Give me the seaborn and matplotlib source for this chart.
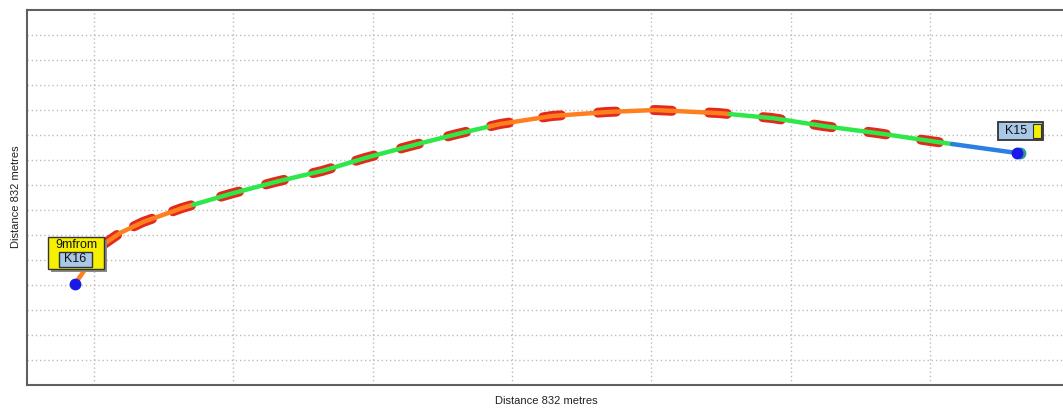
import numpy as np
import pandas as pd
import matplotlib.pyplot as plt
import matplotlib.patches as mpatches
import seaborn as sns

# route centreline, plot units (x to the right, y upwards)
route_x = [48, 63, 77, 93, 116, 155, 203, 248, 295, 338, 383, 430, 473, 525,
           580, 628, 691, 745, 796, 850, 903, 925, 990]
route_y = [101, 123, 141, 152, 163, 177, 191, 203, 214, 227, 239, 251, 261, 269,
           273, 275, 272, 267, 259, 252, 244, 241, 232]

# where the route colour changes and the colour of each stretch
break_x = [166, 463, 703, 925]
stretch_colour = ['#ff7f1f', '#2ee84a', '#ff7f1f', '#2ee84a', '#2a7fe0']

# red chainage marks along the route
mark_x = [81, 116, 155, 203, 248, 295, 338, 383, 430, 473, 525, 580, 636,
          691, 745, 796, 850, 903]

start_note = '9mfrom'
start_label = 'K16'
end_label = 'K15'
axis_title = 'Distance 832 metres'

sns.set_style('white')
plt.rcParams['font.family'] = ['Liberation Sans', 'DejaVu Sans']

fig = plt.figure(figsize=(10.63, 4.09), dpi=100)
ax = fig.add_axes([27 / 1063, 24 / 409, 1048 / 1063, 375 / 409])

# dense route, split into coloured stretches
edges = [route_x[0]] + break_x + [route_x[-1]]
rows = []
for i in range(len(edges) - 1):
    xs = np.linspace(edges[i], edges[i + 1], 200)
    ys = np.interp(xs, route_x, route_y)
    for x, y in zip(xs, ys):
        rows.append({'x': x, 'y': y, 'stretch': f's{i}'})
route = pd.DataFrame(rows)
pal = {f's{i}': c for i, c in enumerate(stretch_colour)}

# chainage marks (drawn under the route so the route runs through them)
mrows = []
for k, mx in enumerate(mark_x):
    xs = np.linspace(mx - 9, mx + 9, 12)
    ys = np.interp(xs, route_x, route_y)
    for x, y in zip(xs, ys):
        mrows.append({'x': x, 'y': y, 'mark': k})
marks = pd.DataFrame(mrows)

sns.lineplot(data=marks, x='x', y='y', units='mark', estimator=None, sort=False,
             color='#e3281c', linewidth=7.2, solid_capstyle='round', ax=ax)
sns.lineplot(data=route, x='x', y='y', hue='stretch', palette=pal, estimator=None,
             sort=False, linewidth=3.2, legend=False, ax=ax)

# end points
ax.plot(route_x[0], route_y[0], 'o', color='#1a1ae8', markersize=7.5, zorder=6)
ax.plot(route_x[-1] + 3, route_y[-1], 'o', color='#2f9c8c', markersize=7.5, zorder=6)
ax.plot(route_x[-1], route_y[-1], 'o', color='#1a1ae8', markersize=7.5, zorder=6)

# start label
sx, sy = route_x[0], route_y[0]
ax.add_patch(mpatches.Rectangle((sx - 24, sy + 12), 56, 32, facecolor='#8a8a8a',
                                edgecolor='none', zorder=7))
ax.add_patch(mpatches.Rectangle((sx - 27, sy + 15), 56, 32, facecolor='#f6f000',
                                edgecolor='#333333', linewidth=1, zorder=8))
ax.add_patch(mpatches.Rectangle((sx - 16, sy + 17), 33, 15, facecolor='#a9c8e8',
                                edgecolor='#333333', linewidth=1, zorder=9))
ax.text(sx + 1, sy + 39, start_note, ha='center', va='center', fontsize=9,
        color='#111111', zorder=10)
ax.text(sx, sy + 24.5, start_label, ha='center', va='center', fontsize=9,
        color='#111111', zorder=10)

# end label
ex, ey = route_x[-1], route_y[-1]
ax.add_patch(mpatches.Rectangle((ex - 19, ey + 13), 45, 18, facecolor='#a9c8e8',
                                edgecolor='#333333', linewidth=1.3, zorder=8))
ax.add_patch(mpatches.Rectangle((ex + 16, ey + 15), 8, 14, facecolor='#f6f000',
                                edgecolor='#333333', linewidth=0.8, zorder=9))
ax.text(ex - 1, ey + 22, end_label, ha='center', va='center', fontsize=9,
        color='#111111', zorder=10)

ax.set_xlim(0, 1048)
ax.set_ylim(0, 375)
ax.set_xticks([67, 206, 346, 485, 624, 764, 903, 1042])
ax.set_yticks([25, 50, 75, 100, 125, 150, 175, 200, 225, 250, 275, 300, 325, 350])
ax.grid(True, linestyle=(0, (1, 2)), color='#bcbcbc', linewidth=1)
ax.tick_params(length=0, labelbottom=False, labelleft=False)
for s in ax.spines.values():
    s.set_color('#606060')
    s.set_linewidth(1.5)

ax.set_xlabel(axis_title, fontsize=8, color='#222222')
ax.set_ylabel(axis_title, fontsize=8, color='#222222')
ax.xaxis.set_label_coords(0.496, -0.043)
ax.xaxis.label.set_va('center')
ax.yaxis.set_label_coords(-0.0105, 0.501)
ax.yaxis.label.set_va('center')

fig.savefig('out.png', dpi=100)
